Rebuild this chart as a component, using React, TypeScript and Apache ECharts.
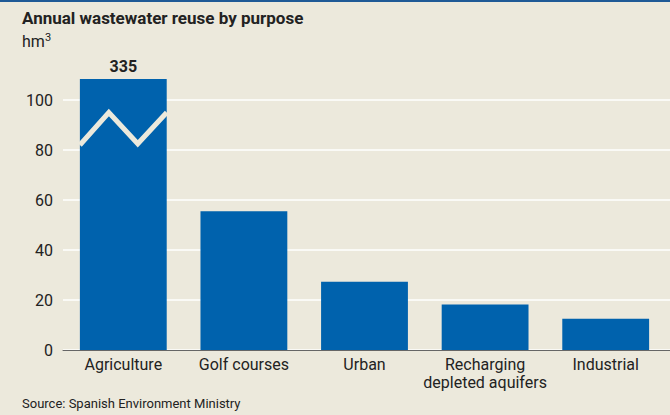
import React, { useEffect, useRef } from "react";
import * as echarts from "echarts";

const categories = ["Agriculture", "Golf courses", "Urban", "Recharging\ndepleted aquifers", "Industrial"];
const values = [108.4, 55.5, 27.3, 18.2, 12.5];
const barLabels = ["335", "", "", "", ""];
const breakLine = [82, 95, 82.5, 95]; // zig-zag break mark on the truncated bar (axis units)
const yTicks = [0, 20, 40, 60, 80, 100];

const FONT = "Roboto";
const BG = "#ECE9DC";
const BAR = "#0062AD";
const TXT = "#222222";

export default function App() {
  const ref = useRef<HTMLDivElement>(null);
  useEffect(() => {
    if (!ref.current) return;
    const chart = echarts.init(ref.current, undefined, { renderer: "svg" });
    const option: any = {
      animation: false,
      backgroundColor: BG,
      textStyle: { fontFamily: FONT },
      graphic: [
        { type: "rect", shape: { x: 0, y: 0, width: 670, height: 2 }, style: { fill: "#1F5A96" } },
        {
          type: "text", left: 22, top: 9,
          style: { text: "Annual wastewater reuse by purpose", font: `bold 17px ${FONT}`, fill: TXT },
        },
        {
          type: "text", left: 22, top: 33,
          style: { text: "hm", font: `16px ${FONT}`, fill: TXT },
        },
        {
          type: "text", left: 45, top: 32,
          style: { text: "3", font: `11px ${FONT}`, fill: TXT },
        },
        {
          type: "text", left: 22, top: 397,
          style: { text: "Source: Spanish Environment Ministry", font: `13px ${FONT}`, fill: TXT },
        },
      ],
      grid: [
        { left: 63, right: 0, top: 100, bottom: 65 },
        { left: 63, right: 4, top: 75, bottom: 65 },
      ],
      xAxis: [
        {
          gridIndex: 0, type: "category", data: [""],
          axisLine: { show: true, lineStyle: { color: "#666", width: 1 } },
          axisTick: { show: false }, axisLabel: { show: false },
        },
        {
          gridIndex: 1, type: "category", data: categories,
          axisLine: { show: false }, axisTick: { show: false },
          axisLabel: { color: TXT, fontSize: 16, fontFamily: FONT, margin: 5, lineHeight: 18, interval: 0 },
        },
      ],
      yAxis: [
        {
          gridIndex: 0, type: "value", min: yTicks[0], max: yTicks[yTicks.length - 1], interval: 20,
          axisLine: { show: false }, axisTick: { show: false },
          axisLabel: { color: TXT, fontSize: 16, fontFamily: FONT, margin: 10 },
          splitLine: { show: true, lineStyle: { color: "#FFFFFF", width: 1.5 } },
        },
        {
          gridIndex: 1, type: "value", min: 0, max: 110,
          show: false, splitLine: { show: false },
        },
      ],
      series: [
        {
          type: "bar", xAxisIndex: 1, yAxisIndex: 1,
          data: values.map((v, i) => ({
            value: v,
            label: { show: !!barLabels[i], formatter: barLabels[i] },
          })),
          barCategoryGap: "28%",
          itemStyle: { color: BAR },
          label: { position: "top", distance: 5, color: TXT, fontSize: 16, fontWeight: "bold", fontFamily: FONT },
          z: 2,
        },
        {
          type: "custom", xAxisIndex: 1, yAxisIndex: 1, z: 5,
          data: [[0, breakLine[0]]],
          renderItem: (params: any, api: any) => {
            const bw = api.size([1, 0])[0] * 0.72;
            const cx = api.coord([0, 0])[0];
            const x0 = cx - bw / 2;
            const step = bw / (breakLine.length - 1);
            const pts = breakLine.map((v, i) => [x0 + step * i, api.coord([0, v])[1]]);
            return {
              type: "polyline",
              shape: { points: pts },
              style: { stroke: BG, lineWidth: 5, fill: null, lineJoin: "miter" },
            };
          },
        },
      ],
    };
    chart.setOption(option);
    return () => chart.dispose();
  }, []);
  return <div ref={ref} style={{ width: 670, height: 415, position: "absolute", left: 0, top: 0 }} />;
}
